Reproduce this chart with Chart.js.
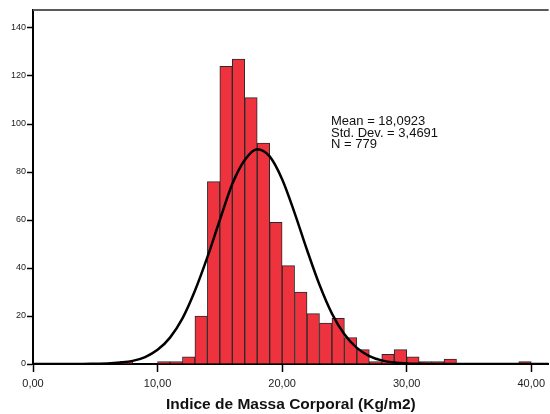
<!DOCTYPE html>
<html>
<head>
<meta charset="utf-8">
<script src="https://cdn.jsdelivr.net/npm/chart.js@4"></script>
<style>
  body { margin: 0; background: #fff; }
  canvas { display: block; }
</style>
</head>
<body>
<canvas id="histo" width="550" height="414"></canvas>
<script>
// histogram bins (left edge, width 1) and counts
let binStarts = [7, 10, 11, 12, 13, 14, 15, 16, 17, 18, 19, 20, 21, 22, 23, 24, 25, 26, 27, 28, 29, 30, 31, 32, 33, 39];
let binCounts = [1, 1, 1, 3, 20, 76, 124, 127, 111, 92, 59, 41, 30, 21, 17, 19, 11, 6, 1, 4, 6, 3, 1, 1, 2, 1];

// normal curve
let curveX = [0, 2, 4, 5, 6, 7, 8, 9, 10, 11, 12, 13, 14, 15, 16, 17, 18, 19, 20, 21, 22, 23, 24, 25, 26, 27, 28, 29, 30, 31, 32, 34, 36, 41.4];
let curveY = [0, 0, 0, 0.1, 0.2, 0.6, 1.3, 2.9, 5.9, 11, 19, 30.5, 44.5, 60, 75, 85, 89.5, 86.5, 77, 63, 47.5, 33, 21, 12.4, 6.7, 3.3, 1.5, 0.6, 0.25, 0.1, 0, 0, 0, 0];

let statLines = ["Mean = 18,0923", "Std. Dev. = 3,4691", "N = 779"];
let xTitle = "Indice de Massa Corporal (Kg/m2)";

let barData = [];
for (let i = 0; i < binStarts.length; i++) {
    barData.push({ x: binStarts[i] + 0.5, y: binCounts[i] });
}
let lineData = [];
for (let i = 0; i < curveX.length; i++) {
    lineData.push({ x: curveX[i], y: curveY[i] });
}

// top frame line + stats text
const extras = {
    id: "extras",
    afterDraw(chart) {
        const ctx = chart.ctx;
        const a = chart.chartArea;
        ctx.save();
        ctx.strokeStyle = "#5a5a5a";
        ctx.lineWidth = 2;
        ctx.beginPath();
        ctx.moveTo(a.left, a.top);
        ctx.lineTo(a.right, a.top);
        ctx.stroke();
        ctx.fillStyle = "#111";
        ctx.font = "13px 'Liberation Sans', Arial, sans-serif";
        ctx.textBaseline = "alphabetic";
        for (let i = 0; i < statLines.length; i++) {
            ctx.fillText(statLines[i], 331, 125 + i * 11.6);
        }
        ctx.restore();
    }
};

var ctx = document.getElementById("histo").getContext("2d");
var myChart = new Chart(ctx, {
    data: {
        datasets: [
            {
                type: "line",
                data: lineData,
                borderColor: "#000",
                borderWidth: 2.5,
                pointRadius: 0,
                cubicInterpolationMode: "monotone",
                fill: false,
                order: 0
            },
            {
                type: "bar",
                data: barData,
                backgroundColor: "#ef333e",
                borderColor: "#2a2a2a",
                borderWidth: 1,
                barPercentage: 1,
                categoryPercentage: 1,
                grouped: false,
                order: 1
            }
        ]
    },
    options: {
        responsive: false,
        animation: false,
        devicePixelRatio: 1,
        layout: { padding: { top: 10, right: 0, left: 0, bottom: 0 } },
        plugins: {
            legend: { display: false },
            tooltip: { enabled: false }
        },
        scales: {
            x: {
                type: "linear",
                offset: false,
                min: 0,
                max: 41.4,
                afterFit: s => { s.height = 50; },
                border: { color: "#000", width: 2 },
                grid: { offset: false, drawOnChartArea: false, tickLength: 8, tickColor: "#000", tickWidth: 1.5 },
                ticks: {
                    stepSize: 10,
                    includeBounds: false,
                    padding: 5,
                    color: "#222",
                    font: { family: "'Liberation Sans', Arial, sans-serif", size: 11 },
                    callback: v => v.toFixed(2).replace(".", ",")
                },
                title: {
                    display: true,
                    text: xTitle,
                    color: "#111",
                    font: { family: "'Liberation Sans', Arial, sans-serif", size: 15.5, weight: "bold" },
                    padding: { top: 2, bottom: 0 }
                }
            },
            y: {
                min: 0,
                max: 147.5,
                afterFit: s => { s.width = 33; },
                border: { color: "#000", width: 2 },
                grid: { drawOnChartArea: false, tickLength: 6, tickColor: "#000", tickWidth: 1.5 },
                ticks: {
                    stepSize: 20,
                    includeBounds: false,
                    padding: 1,
                    color: "#222",
                    font: { family: "'Liberation Sans', Arial, sans-serif", size: 9 }
                }
            }
        }
    },
    plugins: [extras]
});
</script>
</body>
</html>
